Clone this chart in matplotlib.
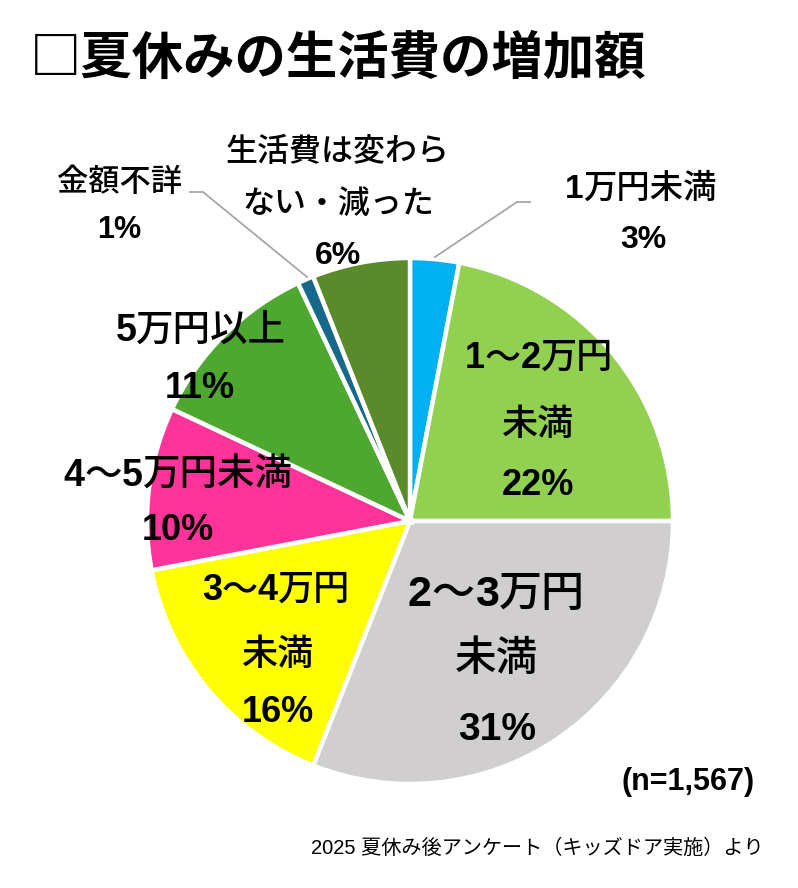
import re
import matplotlib.pyplot as plt
from matplotlib.offsetbox import TextArea, HPacker, AnnotationBbox

# survey result: increase of living costs during summer holidays
categories = ['1万円未満', '1～2万円未満', '2～3万円未満', '3～4万円未満',
              '4～5万円未満', '5万円以上', '金額不詳', '生活費は変わらない・減った']
shares = [3, 22, 31, 16, 10, 11, 1, 6]
colors = ['#00B0F0', '#92D050', '#D0CECE', '#FFFF00',
          '#FF3399', '#4EA72E', '#17698C', '#5B8A2B']

title = '□夏休みの生活費の増加額'
n_note = '(n=1,567)'
source = '2025 夏休み後アンケート（キッズドア実施）より'

W, H = 798, 888
JP = ['Liberation Sans', 'Noto Sans CJK JP']


def Y(y):
    return H - y


fig = plt.figure(figsize=(W / 100, H / 100), dpi=100)
ax = fig.add_axes([0, 0, 1, 1])

ax.pie(shares, colors=colors, startangle=90, counterclock=False,
       center=(410, Y(521)), radius=263,
       wedgeprops=dict(edgecolor='white', linewidth=3.2))
ax.set_xlim(0, W)
ax.set_ylim(0, H)
ax.set_aspect('equal')
ax.axis('off')

# leader lines for the small slices
ax.plot([435, 517, 530], [Y(257), Y(202), Y(202)], color='#A6A6A6', lw=1.3)
ax.plot([307, 203, 190], [Y(277), Y(192), Y(192)], color='#A6A6A6', lw=1.3)


def label(x, y, s, size, bold=False):
    # digits in bold latin font, japanese in medium weight
    runs = [r for r in re.split(r'([0-9%]+)', s) if r]
    if len(runs) == 1:
        w = 'bold' if (bold or runs[0][0].isdigit()) else 'medium'
        ax.text(x, Y(y), s, ha='center', va='center', fontsize=size,
                family=JP, weight=w, color='black')
        return
    parts = []
    for r in runs:
        if r[0].isdigit() or r[0] == '%':
            props = dict(fontsize=size, family='Liberation Sans', weight='bold')
        else:
            props = dict(fontsize=size, family='Noto Sans CJK JP', weight='medium')
        parts.append(TextArea(r, textprops=props))
    box = HPacker(children=parts, align='baseline', pad=0, sep=0)
    ab = AnnotationBbox(box, (x, Y(y)), frameon=False, pad=0,
                        box_alignment=(0.5, 0.5))
    ax.add_artist(ab)


# outside labels
label(641, 188, '1万円未満', 24)
label(643, 240, '3%', 23, True)
label(119, 183, '金額不詳', 22.5)
label(119, 230, '1%', 22, True)
label(338, 153, '生活費は変わら', 23)
label(338, 205, 'ない・減った', 23)
label(338, 256, '6%', 23, True)

# inside labels
label(539, 358, '1～2万円', 26)
label(538, 425, '未満', 26)
label(538, 485, '22%', 26, True)
label(496, 593, '2～3万円', 31)
label(497, 660, '未満', 30)
label(497, 730, '31%', 28, True)
label(276, 590, '3～4万円', 26)
label(278, 655, '未満', 26)
label(278, 713, '16%', 26, True)
label(178, 475, '4～5万円未満', 27)
label(178, 530, '10%', 26, True)
label(201, 330, '5万円以上', 27)
label(200, 388, '11%', 26, True)

ax.text(30, Y(58), title, ha='left', va='center', fontsize=37,
        family='Noto Sans CJK JP', weight='bold')
ax.text(688, Y(782), n_note, ha='center', va='center', fontsize=22,
        family=JP, weight='bold')
ax.text(537, Y(848), source, ha='center', va='center', fontsize=14.5,
        family=JP)

plt.savefig('out.png', dpi=100)
